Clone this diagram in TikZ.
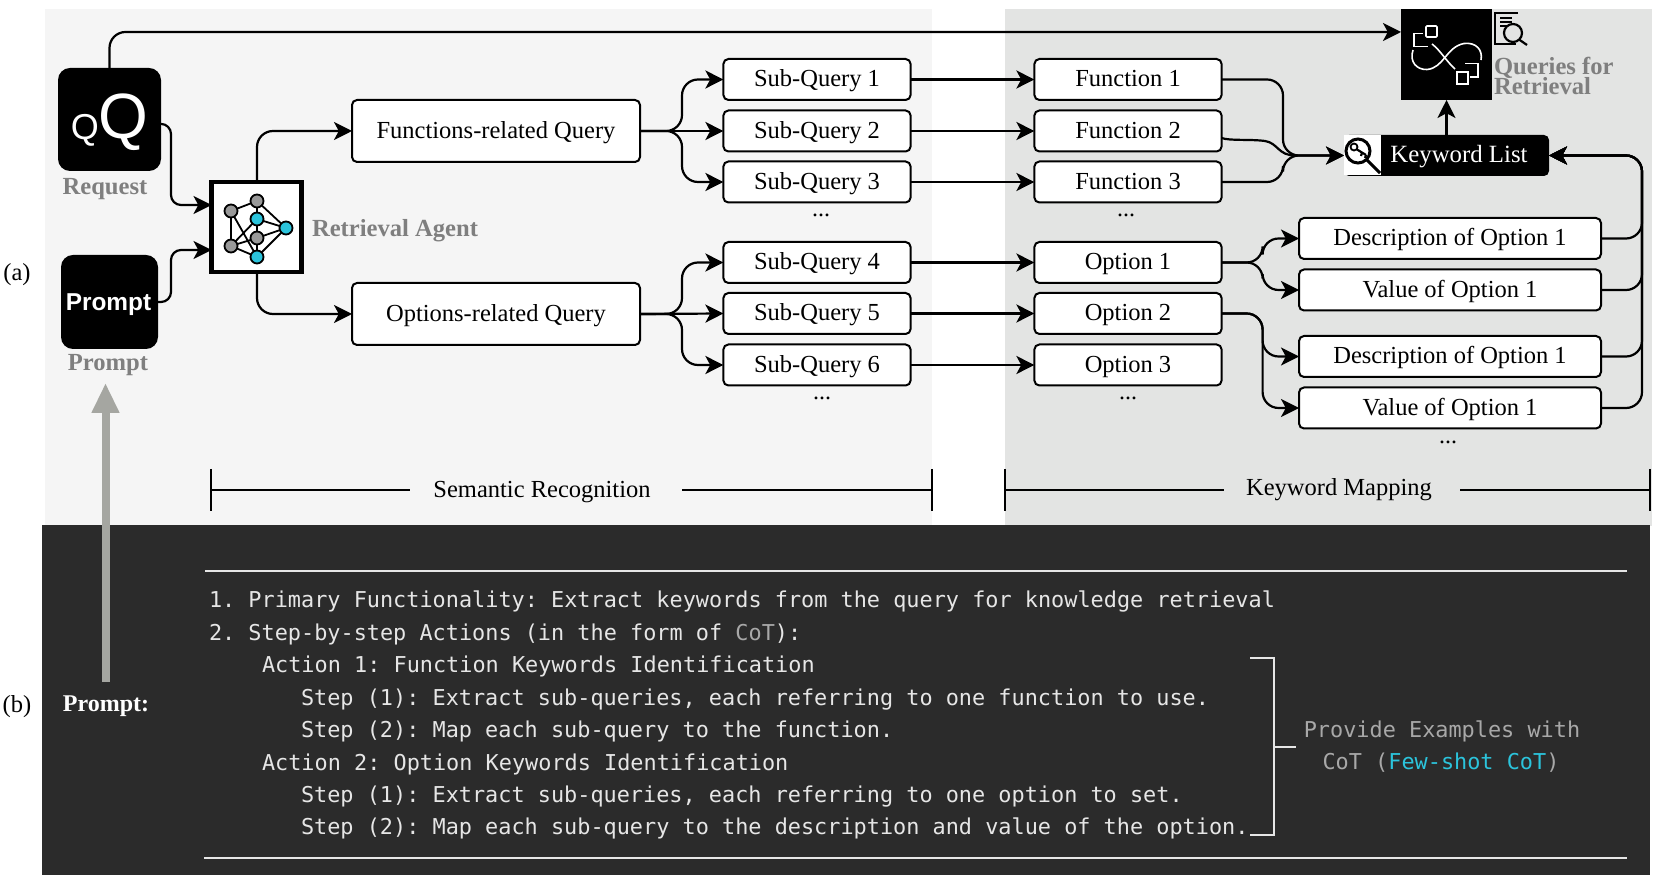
\documentclass[tikz,border=0pt]{standalone}
\usepackage{fontspec}
\setmainfont{Liberation Serif}
\setsansfont{Liberation Sans}
\newfontfamily\monof{DejaVu Sans Mono}
\usetikzlibrary{arrows.meta}
\definecolor{panelL}{HTML}{F5F5F5}
\definecolor{panelG}{HTML}{E3E4E3}
\definecolor{panelD}{HTML}{2B2B2B}
\definecolor{lbl}{HTML}{7F7F7F}
\definecolor{bigarrow}{HTML}{A5A6A1}
\definecolor{cyn}{HTML}{2BC4DC}
\definecolor{monoc}{HTML}{E6E6E6}
\definecolor{dimc}{HTML}{A8A8A8}
\tikzset{
  x=0.5pt,y=-0.5pt,
  every node/.style={inner sep=0pt,outer sep=0pt},
  rbox/.style={draw=black,line width=1pt,fill=white,rounded corners=2.5pt,font=\fontsize{12.25}{14}\selectfont,text height=9pt,text depth=1.5pt,align=center},
  subbox/.style={rbox,minimum width=93.6pt,minimum height=20.5pt},
  bigbox/.style={rbox,minimum width=144pt,minimum height=31pt},
  valbox/.style={rbox,minimum width=151pt,minimum height=20.5pt},
  conn/.style={line width=1.1pt,rounded corners=8pt,-{Stealth[length=9pt,width=9pt,inset=2.4pt]}},
  connb/.style={line width=1.1pt,rounded corners=5pt,-{Stealth[length=9pt,width=9pt,inset=2.4pt]}},
  glabel/.style={text=lbl,font=\fontsize{12.3}{12}\selectfont\bfseries},
  monot/.style={anchor=base west,text=monoc,font=\monof\frenchspacing\fontsize{10.93}{12}\selectfont},
  scaleline/.style={line width=0.8pt},
  dots/.style={font=\fontsize{12}{12}\selectfont,text height=3pt,text depth=0pt},
  netg/.style={circle,draw=black,line width=0.9pt,fill=gray!80,minimum size=6.5pt},
  netc/.style={netg,fill=cyn},
  netl/.style={line width=0.9pt},
  wico/.style={draw=white,line width=0.8pt},
  bico/.style={draw=black,line width=0.8pt}
}
\begin{document}
\begin{tikzpicture}
\path[use as bounding box,fill=white] (0,0) rectangle (1660,892);
% panels
\fill[panelL] (45,9) rectangle (932,526);
\fill[panelG] (1005,9) rectangle (1652,526);
\fill[panelD] (42,525) rectangle (1650,875);
% sources
\node[fill=black,rounded corners=6pt,minimum width=51.5pt,minimum height=51.5pt] (req) at (109.5,119.5) {};
\node[text=white,font=\sffamily\fontsize{32}{32}\selectfont] (qbig) at (123,122) {Q};
\node[text=white,font=\sffamily\fontsize{18}{18}\selectfont] (qsmall) at (85,130) {Q};
\node[glabel] (reqlab) at (105,189) {Request};
\node[fill=black,rounded corners=6pt,minimum width=48.5pt,minimum height=47pt] (prm) at (109.5,302) {};
\node[text=white,font=\sffamily\bfseries\fontsize{12.2}{12}\selectfont] (prmtxt) at (108.5,304.5) {Prompt};
\node[glabel] (prmlab) at (108,365) {Prompt};
% agent
\node[draw=black,line width=2.2pt,fill=white,minimum width=45pt,minimum height=45pt] (agent) at (256.5,227) {};
\node[netg] (n1) at (231,211) {};
\node[netg] (n2) at (257,201) {};
\node[netc] (n3) at (257,219) {};
\node[netc] (n4) at (286,228) {};
\node[netg] (n5) at (257,238) {};
\node[netg] (n6) at (231,246) {};
\node[netc] (n7) at (257,257) {};
\draw[netl] (n1)--(n2) (n1)--(n6) (n1)--(n7) (n6)--(n3) (n6)--(n5) (n6)--(n7) (n2)--(n3) (n2)--(n4) (n3)--(n4) (n5)--(n4) (n7)--(n4) (n5)--(n7) (n3)--(n5);
\node[glabel,anchor=west] (aglab) at (312,231) {Retrieval Agent};
% queries
\node[bigbox] (fq) at (496,131) {Functions-related Query};
\node[bigbox] (oq) at (496,314) {Options-related Query};
\foreach \n/\y/\t in {s1/79.5/Sub-Query 1,s2/131/Sub-Query 2,s3/182/Sub-Query 3,s4/262.5/Sub-Query 4,s5/313.5/Sub-Query 5,s6/365/Sub-Query 6}
  \node[subbox] (\n) at (817,\y) {\t};
\foreach \n/\y/\t in {f1/79.5/Function 1,f2/131/Function 2,f3/182/Function 3,o1/262.5/Option 1,o2/313.5/Option 2,o3/365/Option 3}
  \node[subbox] (\n) at (1128,\y) {\t};
\node[valbox] (d1) at (1450,238.5) {Description of Option 1};
\node[valbox] (v1) at (1450,290) {Value of Option 1};
\node[valbox] (d2) at (1450,356.5) {Description of Option 1};
\node[valbox] (v2) at (1450,408) {Value of Option 1};
\node[dots] (dt1) at (821,214) {...};
\node[dots] (dt2) at (1126,214) {...};
\node[dots] (dt3) at (822,397) {...};
\node[dots] (dt4) at (1128,397) {...};
\node[dots] (dt5) at (1448,441) {...};
% keyword list
\node[fill=black,rounded corners=2.5pt,minimum width=102.5pt,minimum height=20.5pt] (kw) at (1446.5,155.5) {};
\fill[white] (1344,135) rectangle (1381,175);
\draw[black,line width=1.5pt] (1358,151) circle[radius=12];
\draw[black,line width=1.5pt] (1367,160) -- (1380,173);
\draw[black,line width=0.9pt] (1354,147) circle[radius=3.5];
\draw[black,line width=1.1pt] (1357,149.5) -- (1366,155) (1362,152.5) -- (1361,156) (1366,155) -- (1365,158);
\node[text=white,font=\fontsize{12.4}{14}\selectfont] (kwt) at (1459,157) {Keyword List};
% target
\node[fill=black,minimum width=45.5pt,minimum height=45.5pt] (tgt) at (1446.5,54.5) {};
\draw[wico,rounded corners=0.5pt] (1426,26) rectangle (1437,37);
\draw[wico] (1423,33.5) -- (1414,33.5) -- (1414,46.5) -- (1428,46.5);
\draw[wico] (1457,72) rectangle (1468,84);
\draw[wico] (1465,63.5) -- (1478,63.5) -- (1478,77) -- (1470,77);
\draw[wico] (1413,50) .. controls (1409,62) and (1417,70) .. (1427,69.5) .. controls (1444,68) and (1446,47) .. (1464,43.5) .. controls (1476,42) and (1483,50) .. (1481,60);
\draw[wico] (1432,44) .. controls (1440,50) and (1447,62) .. (1455,69);
% doc icon
\draw[bico,fill=panelG] (1518,13) -- (1495,13) -- (1495,44) -- (1516,44);
\draw[bico] (1500,18) -- (1512,18);
\draw[bico,line width=1.4pt] (1500,22) -- (1512,22);
\draw[bico] (1500,26) -- (1508,26);
\draw[bico,line width=1.1pt,fill=panelG] (1513,33) circle[radius=9];
\draw[bico,line width=1.1pt] (1519,39.5) -- (1527,45);
\node[text=lbl,font=\fontsize{12.3}{10.5}\selectfont\bfseries,anchor=base west,align=left] (q1) at (1494,95) {Queries for\\[-1.1pt]Retrieval};
% connectors
\draw[conn] (req.north) -- (109.5,32) -- ([yshift=11.25pt]tgt.west);
\draw[connb] ([yshift=-2.2pt]req.east) -- (171,124) -- (171,205) -- ([yshift=11pt]agent.west);
\draw[connb] (prm.east) -- (171,302) -- (171,250) -- ([yshift=-11.5pt]agent.west);
\draw[conn] (257,181) |- (fq.west);
\draw[conn] (257,273) |- (oq.west);
\foreach \a/\b in {fq/s1,fq/s3,oq/s4,oq/s6}
  \draw[conn] (\a.east) -- ++(42,0) |- (\b.west);
\draw[conn] (fq.east) -- (s2.west);
\draw[conn] (oq.east) -- (s5.west);
\foreach \a/\b in {s1/f1,s2/f2,s3/f3,s4/o1,s5/o2,s6/o3}
  \draw[conn] (\a.east) -- (\b.west);
\draw[conn] (f1.east) -- (1283,79.5) -- (1283,155.5) -- (kw.west);
\draw[conn] (f3.east) -- (1283,182) -- (1283,155.5) -- (kw.west);
\draw[line width=1.1pt] ([yshift=-3.5pt]f2.east) .. controls (1230,141) and (1250,139) .. (1265,141) .. controls (1278,143) and (1278,155.5) .. (1295,155.5);
\draw[conn] (o1.east) -- ++(41,0) |- (d1.west);
\draw[conn] (o1.east) -- ++(41,0) |- (v1.west);
\draw[conn] (o2.east) -- ++(41,0) |- (d2.west);
\draw[conn] (o2.east) -- ++(41,0) |- (v2.west);
\draw[conn] (kw.north) -- (tgt.south);
\foreach \b in {d1,v1,d2,v2}
  \draw[conn] (\b.east) -| (1642,155.5) -- (kw.east);
% scale lines
\node[font=\fontsize{12.25}{14}\selectfont,text height=9pt,text depth=1.5pt] (sr) at (542,490) {Semantic Recognition};
\node[font=\fontsize{12.25}{14}\selectfont,text height=9pt,text depth=1.5pt] (km) at (1339,488) {Keyword Mapping};
\draw[scaleline] (211,469) -- (211,511) (211,490) -- (410,490) (682,490) -- (932,490) (932,469) -- (932,511);
\draw[scaleline] (1005,469) -- (1005,511) (1005,490) -- (1224,490) (1460,490) -- (1650,490) (1650,469) -- (1650,511);
% side labels
\node[font=\fontsize{12.25}{14}\selectfont] (la) at (17,275) {(a)};
\node[font=\fontsize{12.25}{14}\selectfont] (lb) at (17,707) {(b)};
% big arrow
\coordinate (gs) at (105.5,682);
\coordinate (gt) at (105.5,383);
\draw[bigarrow,line width=4pt,-{Triangle[length=15pt,width=13pt]}] (gs) -- (gt);
\node[text=white,font=\fontsize{12}{14}\selectfont\bfseries] (pl) at (106,706) {Prompt:};
% rules
\draw[monoc,line width=1pt] (205,570.7) -- (1627,570.7);
\draw[monoc,line width=1pt] (204,858) -- (1627,858);
\node[monot] (t1) at (209,608) {1. Primary Functionality: Extract keywords from the query for knowledge retrieval};
\node[monot] (t2) at (209,640.4) {2. Step-by-step Actions (in the form of \textcolor{dimc}{CoT}):};
\node[monot] (t3) at (262,672.8) {Action 1: Function Keywords Identification};
\node[monot] (t4) at (301,705.2) {Step (1): Extract sub-queries, each referring to one function to use.};
\node[monot] (t5) at (301,737.6) {Step (2): Map each sub-query to the function.};
\node[monot] (t6) at (262,770) {Action 2: Option Keywords Identification};
\node[monot] (t7) at (301,802.4) {Step (1): Extract sub-queries, each referring to one option to set.};
\node[monot] (t8) at (301,834.8) {Step (2): Map each sub-query to the description and value of the option.};
\draw[monoc,line width=0.9pt] (1250,658) -- (1274,658) -- (1274,835) -- (1250,835);
\draw[monoc,line width=0.9pt] (1274,747) -- (1296,747);
\node[monot,anchor=base,text=dimc] (e1) at (1442,737) {Provide Examples with};
\node[monot,anchor=base,text=dimc] (e2) at (1441,769) {CoT (\textcolor{cyn}{Few-shot CoT})};
\end{tikzpicture}
\end{document}
